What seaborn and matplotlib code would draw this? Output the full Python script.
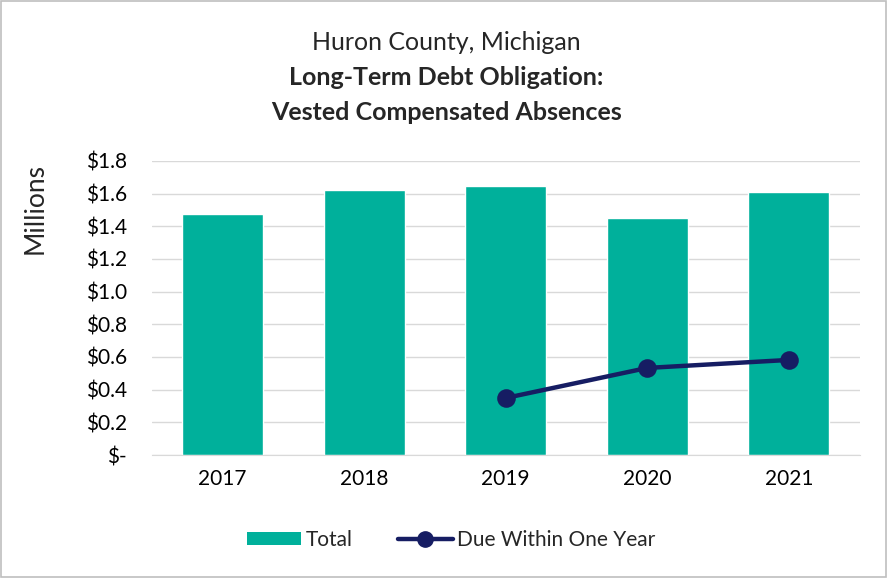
import pandas as pd
import matplotlib.pyplot as plt
import seaborn as sns
from matplotlib.lines import Line2D
from matplotlib.patches import Patch, Rectangle

years = ["2017", "2018", "2019", "2020", "2021"]
total = [1.475, 1.623, 1.647, 1.451, 1.610]
due_years = ["2019", "2020", "2021"]
due = [0.349, 0.533, 0.582]
yticks = [0, 0.2, 0.4, 0.6, 0.8, 1.0, 1.2, 1.4, 1.6, 1.8]

teal = "#00B09B"
navy = "#161D63"

sns.set_style("white")
plt.rcParams["font.family"] = ["Lato", "DejaVu Sans"]

df = pd.DataFrame({"year": years, "total": total})
df_due = pd.DataFrame({"year": due_years, "due": due})

fig = plt.figure(figsize=(8.88, 5.78), dpi=100)
ax = fig.add_axes([0.171, 0.2128, 0.797, 0.5087])

sns.barplot(data=df, x="year", y="total", order=years, color=teal,
            width=0.57, saturation=1, ax=ax)
sns.pointplot(data=df_due, x="year", y="due", order=years, color=navy,
              markers="o", markersize=11, linewidth=3.2, ax=ax)

ax.set_xlim(-0.5, 4.5)
ax.set_ylim(0, 1.8)
ax.set_yticks(yticks)
ax.set_yticklabels(["$-" if v == 0 else f"${v:.1f}" for v in yticks])
ax.grid(axis="y", color="#D9D9D9", linewidth=1)
ax.set_axisbelow(True)
for s in ["top", "right", "left"]:
    ax.spines[s].set_visible(False)
ax.spines["bottom"].set_color("#D9D9D9")
ax.tick_params(axis="both", length=0, labelsize=15, colors="#000000")
ax.tick_params(axis="y", pad=18)
ax.tick_params(axis="x", pad=10)
ax.set_xlabel("")
ax.set_ylabel("Millions", fontsize=19)
ax.yaxis.set_label_coords(-0.147, 0.84)

fig.text(0.503, 0.927, "Huron County, Michigan", ha="center", va="center", fontsize=18)
fig.text(0.503, 0.866, "Long-Term Debt Obligation:", ha="center", va="center",
         fontsize=18, fontweight="bold")
fig.text(0.503, 0.806, "Vested Compensated Absences", ha="center", va="center",
         fontsize=18, fontweight="bold")

handles = [Patch(facecolor=teal, edgecolor="none"),
           Line2D([0], [0], color=navy, linewidth=3.2, marker="o", markersize=11)]
fig.legend(handles, ["Total", "Due Within One Year"], loc="center",
           bbox_to_anchor=(0.508, 0.066), ncol=2, frameon=False, fontsize=15,
           handlelength=2.6, handleheight=0.55, columnspacing=2.2, handletextpad=0.2)

fig.patches.append(Rectangle((0.001, 0.002), 0.997, 0.996, transform=fig.transFigure,
                             fill=False, edgecolor="#BFBFBF", linewidth=1.2))

fig.savefig("out.png", dpi=100)
